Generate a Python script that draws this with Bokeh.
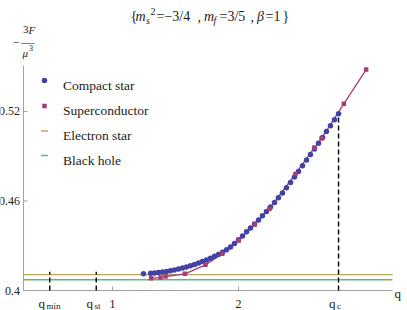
from bokeh.plotting import figure
from bokeh.models import Label
from bokeh.embed import file_html
from bokeh.resources import INLINE

# ---------------- data ----------------
Q_COMPACT = [1.246, 1.302, 1.333, 1.365, 1.397, 1.429, 1.460, 1.492, 1.524, 1.556,
             1.587, 1.619, 1.651, 1.683, 1.714, 1.746, 1.778, 1.810, 1.841, 1.873,
             1.905, 1.937, 1.968, 2.000, 2.032, 2.064, 2.095, 2.127, 2.159, 2.190,
             2.222, 2.254, 2.286, 2.317, 2.349, 2.381, 2.413, 2.444, 2.476, 2.508,
             2.540, 2.571, 2.603, 2.635, 2.667, 2.698, 2.730, 2.762, 2.794]
F_COMPACT = [0.4113, 0.4116, 0.4118, 0.4121, 0.4124, 0.4128, 0.4133, 0.4138, 0.4144, 0.4151,
             0.4158, 0.4166, 0.4175, 0.4184, 0.4194, 0.4205, 0.4216, 0.4229, 0.4242, 0.4257,
             0.4273, 0.4292, 0.4315, 0.4340, 0.4366, 0.4393, 0.4419, 0.4446, 0.4473, 0.4501,
             0.4529, 0.4559, 0.4590, 0.4621, 0.4654, 0.4688, 0.4724, 0.4761, 0.4798, 0.4836,
             0.4874, 0.4912, 0.4949, 0.4987, 0.5025, 0.5065, 0.5105, 0.5144, 0.5184]

Q_SC = [1.306, 1.381, 1.421, 1.575, 1.738, 1.871, 2.002, 2.129, 2.246, 2.452,
        2.603, 2.659, 2.836, 3.013]
F_SC = [0.4082, 0.4087, 0.4094, 0.4112, 0.4172, 0.4246, 0.4335, 0.4442, 0.4548, 0.4781,
        0.4958, 0.5019, 0.5251, 0.5481]

ELECTRON_STAR = 0.4107
BLACK_HOLE = 0.4072

Q_MARKS = [0.502, 0.871, 2.794]
Q_MARK_TOPS = [0.4125, 0.4125, 0.5184]
Q_MARK_SUBS = ["min", "st", "c"]

X_TICKS = [1, 2]
X_TICK_LABELS = ["1", "2"]
Y_TICKS = [0.4, 0.46, 0.52]
Y_TICK_LABELS = ["0.4", "0.46", "0.52"]

# axes extent (data units) and the visible window
AXIS_X = (0.294, 3.222)
AXIS_Y = (0.4, 0.5508)
VIEW_X = (0.1111, 3.3413)
VIEW_Y = (0.38660, 0.59437)

LEGEND_LABELS = ["Compact star", "Superconductor", "Electron star", "Black hole"]

C_CS = "#4242a6"
C_SC = "#a33e78"
C_ES = "#bba75a"
C_BH = "#62b583"
AXIS_C = "#a0a0a0"
TXT_C = "#222222"
SERIF = "'Liberation Serif'"

W, H = 407, 310

p = figure(width=W, height=H, x_range=VIEW_X, y_range=VIEW_Y,
           x_axis_type=None, y_axis_type=None,
           output_backend="svg", toolbar_location=None,
           min_border_left=0, min_border_right=0, min_border_top=0, min_border_bottom=0)
p.xgrid.visible = False
p.ygrid.visible = False
p.outline_line_color = None


def img(ix, iy):
    """picture pixel -> data coordinates"""
    x = VIEW_X[0] + ix * (VIEW_X[1] - VIEW_X[0]) / W
    y = VIEW_Y[1] - iy * (VIEW_Y[1] - VIEW_Y[0]) / H
    return x, y


def lab_at(text, x, y, size, style="normal", align="left", baseline="alphabetic"):
    p.add_layout(Label(x=x, y=y, text=text, text_font=SERIF, text_font_size=f"{size}px",
                       text_font_style=style, text_color=TXT_C, text_align=align,
                       text_baseline=baseline))


def lab(text, ix, iy, size, style="normal", align="left", baseline="alphabetic"):
    x, y = img(ix, iy)
    lab_at(text, x, y, size, style, align, baseline)


# horizontal reference states
p.line(list(AXIS_X), [ELECTRON_STAR, ELECTRON_STAR], line_color=C_ES, line_width=1.3)
p.line(list(AXIS_X), [BLACK_HOLE, BLACK_HOLE], line_color=C_BH, line_width=1.3)

# axes
p.segment(x0=[AXIS_X[0], AXIS_X[0]], y0=[AXIS_Y[0], AXIS_Y[0]],
          x1=[AXIS_X[1], AXIS_X[0]], y1=[AXIS_Y[0], AXIS_Y[1]],
          line_color=AXIS_C, line_width=1)
p.ray(x=X_TICKS, y=[AXIS_Y[0]] * len(X_TICKS), length=4, length_units="screen",
      angle=90, angle_units="deg", line_color=AXIS_C, line_width=1)
p.ray(x=[AXIS_X[0]] * len(Y_TICKS), y=Y_TICKS, length=4, length_units="screen",
      angle=0, angle_units="deg", line_color=AXIS_C, line_width=1)

# dashed markers q_min, q_st, q_c
p.segment(x0=Q_MARKS, y0=[AXIS_Y[0]] * len(Q_MARKS), x1=Q_MARKS, y1=Q_MARK_TOPS,
          line_color="black", line_width=1.4, line_dash="5 3")

# data series
p.line(Q_SC, F_SC, line_color=C_SC, line_width=1.3)
p.scatter(Q_COMPACT, F_COMPACT, marker="circle", size=5.5, fill_color=C_CS, line_color=None)
p.scatter(Q_SC, F_SC, marker="square", size=4.5, fill_color=C_SC, line_color=None)

# tick labels
_, ybase = img(0, 303)
for t, s in zip(X_TICKS, X_TICK_LABELS):
    lab_at(s, t, ybase, 12, align="center")
xr, _ = img(19.5, 0)
for t, s in zip(Y_TICKS, Y_TICK_LABELS):
    lab_at(s, xr, t, 12, align="right", baseline="middle")

# legend: keys at x=44, rows centred at y = 80, 105.5, 130.5, 155
kx, ky0 = img(44, 80)
_, ky1 = img(44, 105.5)
p.scatter([kx], [ky0], marker="circle", size=5.5, fill_color=C_CS, line_color=None)
p.scatter([kx], [ky1], marker="square", size=4.5, fill_color=C_SC, line_color=None)
lx0, ky2 = img(40.5, 130.5)
lx1, ky3 = img(47.5, 155)
p.segment(x0=[lx0, lx0], y0=[ky2, ky3], x1=[lx1, lx1], y1=[ky2, ky3],
          line_color=[C_ES, C_BH], line_width=1.3)
for s, base in zip(LEGEND_LABELS, [84.5, 110, 135, 159.5]):
    lab(s, 62.5, base, 13.5)

# title {m_s^2 = -3/4 , m_f = 3/5 , beta = 1}
title_parts = [("{", 130, 16, 14, "normal"), ("m", 135, 16, 14, "italic"),
               ("s", 145.5, 19.5, 10, "italic"), ("2", 150, 11, 10, "normal"),
               ("=\u22123/4", 156, 16, 14, "normal"), (",", 197, 16, 14, "normal"),
               ("m", 203.5, 16, 14, "italic"), ("f", 213, 19.5, 10, "italic"),
               ("=3/5", 219, 16, 14, "normal"), (",", 250, 16, 14, "normal"),
               ("\u03b2", 256.5, 16, 14, "italic"), ("=1", 265, 16, 14, "normal"),
               ("}", 282, 16, 14, "normal")]
for t, ix, base, sz, st in title_parts:
    lab(t, ix, base, sz, st)

# y-axis label  -3F/mu^3
ylab_parts = [("\u2212", 12.5, 41, 12, "normal"), ("3", 22.5, 29, 11, "normal"),
              ("F", 28, 29, 11, "italic"), ("\u2014", 20.5, 40.5, 13.5, "normal"),
              ("\u03bc", 22, 52, 11, "italic"), ("3", 28.5, 47, 8, "normal")]
for t, ix, base, sz, st in ylab_parts:
    lab(t, ix, base, sz, st)

# x-axis label
lab("q", 394, 292.5, 13)

# q_min, q_st, q_c labels
q_left = [38, 86, 328.5]
sub_left = [46, 94, 336.5]
for ql, sl, sub in zip(q_left, sub_left, Q_MARK_SUBS):
    lab("q", ql, 303, 13)
    lab(sub, sl, 305, 9)

open("out.html", "w").write(file_html(p, INLINE))
